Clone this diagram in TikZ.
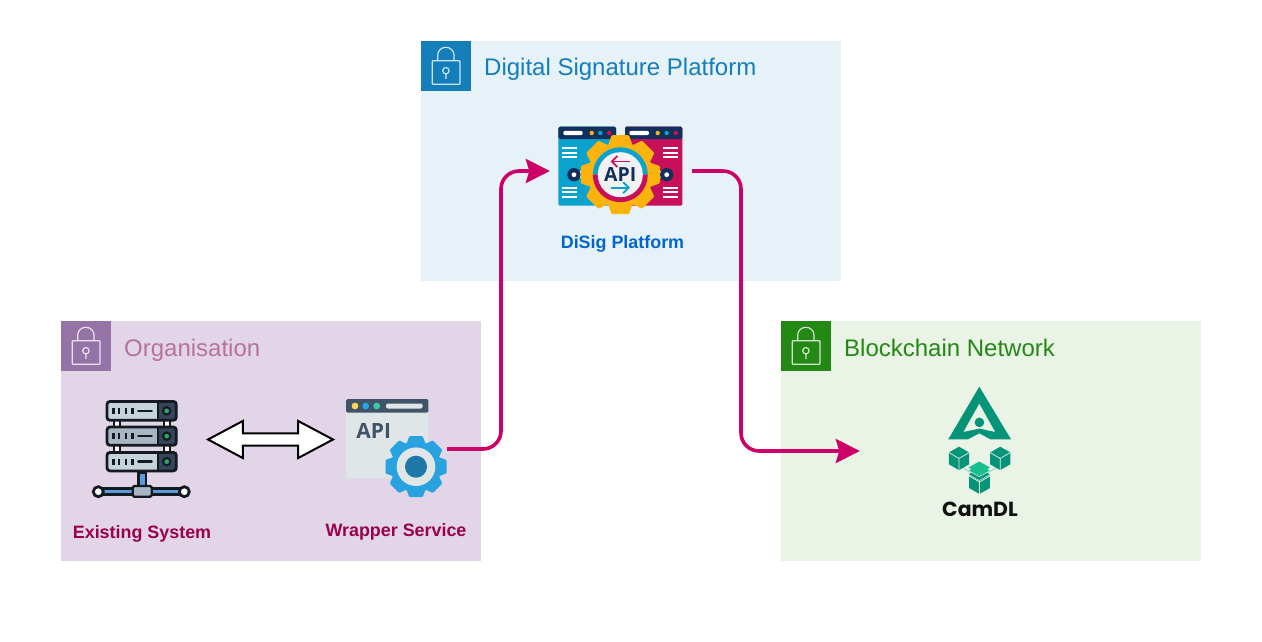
\documentclass[tikz,border=0pt]{standalone}
\usepackage{fontspec}
\setmainfont{Liberation Sans}
\newfontfamily\poppinsfont{Poppins}
\newfontfamily\apifont{Open Sans}
\usetikzlibrary{arrows.meta,shapes.arrows,calc}
\definecolor{bluefill}{HTML}{E6F2F8}\definecolor{blueic}{HTML}{147EBA}
\definecolor{purfill}{HTML}{E2D5E7}\definecolor{puric}{HTML}{9673A6}\definecolor{purtxt}{HTML}{B5739D}
\definecolor{grnfill}{HTML}{E9F3E6}\definecolor{grnic}{HTML}{248814}
\definecolor{linkcol}{HTML}{CC0066}\definecolor{lblred}{HTML}{99004D}\definecolor{lblblue}{HTML}{0066CC}
\definecolor{navy}{HTML}{12305C}\definecolor{tealb}{HTML}{0BA3CE}\definecolor{crim}{HTML}{C8105A}\definecolor{gold}{HTML}{FDB30E}
\definecolor{srvk}{HTML}{141A20}\definecolor{srvd}{HTML}{36465A}\definecolor{srvl}{HTML}{C5D3DB}\definecolor{srvm}{HTML}{A8B5C2}\definecolor{srvb}{HTML}{5A9BE0}\definecolor{srvg}{HTML}{2FA36B}
\definecolor{wingrey}{HTML}{E0E5E8}\definecolor{winhead}{HTML}{3F5468}\definecolor{skyg}{HTML}{29A3E0}\definecolor{deepg}{HTML}{1E78A8}
\definecolor{winyel}{HTML}{FFD54F}\definecolor{wingrn}{HTML}{3CC8A0}
\definecolor{camg}{HTML}{069478}\definecolor{camb}{HTML}{18BE8E}\definecolor{camk}{HTML}{111111}
\tikzset{
  x=1pt,y=-1pt,
  grp/.style={draw=none,inner sep=0pt,anchor=north west},
  grouptitle/.style={anchor=base west,inner sep=0pt,font=\fontsize{24}{28}\selectfont},
  iconlabel/.style={anchor=base,inner sep=0pt,font=\fontsize{17.9}{21}\selectfont\bfseries},
  iconbox/.style={draw=none,fill=none,inner sep=0pt},
  link/.style={draw=linkcol,line width=3.6pt,rounded corners=18pt,-{Stealth[length=24pt,width=24pt,inset=3.5pt]}},
  lockpic/.pic={
    \draw[white,line width=1.2pt,opacity=.8,rounded corners=.8pt] (11.3,19.7) rectangle (39,43.3);
    \draw[white,line width=1.2pt,opacity=.8] (16.7,19.7) -- (16.7,14) arc[start angle=180,end angle=0,x radius=8.15,y radius=-7.7] -- (33,19.7);
    \draw[white,line width=1.2pt,opacity=.8] (24.9,29.7) circle[radius=3.2] (24.9,32.9) -- (24.9,38);
  }
}
% gear: cx cy router rbody teeth colour
\newcommand{\gearshape}[6]{%
  \fill[#6] (#1,#2) circle[radius=#4];
  \pgfmathsetmacro{\gstep}{360/#5}
  \foreach \k in {1,...,#5}{
    \pgfmathsetmacro{\ga}{\k*\gstep}
    \fill[#6,shift={(#1,#2)},rotate=\ga,rounded corners=1pt] (-#3*.31,-#4*.9) -- (-#3*.22,-#3) -- (#3*.22,-#3) -- (#3*.31,-#4*.9) -- cycle;
  }
}
% cube: cx cy half-size
\newcommand{\cubeshape}[3]{%
  \fill[camg] (#1,#2-#3) -- (#1+#3*.87,#2-#3*.5) -- (#1+#3*.87,#2+#3*.5) -- (#1,#2+#3) -- (#1-#3*.87,#2+#3*.5) -- (#1-#3*.87,#2-#3*.5) -- cycle;
  \draw[grnfill,line width=.7pt] (#1-#3*.87,#2-#3*.5) -- (#1,#2) -- (#1+#3*.87,#2-#3*.5) (#1,#2) -- (#1,#2+#3);
}
\begin{document}
\begin{tikzpicture}
\useasboundingbox (0,0) rectangle (1262,642);
\fill[white] (0,0) rectangle (1262,642);
% groups
\node[grp,fill=bluefill,minimum width=420pt,minimum height=240pt] (gblue) at (421,41) {};
\node[grp,fill=purfill,minimum width=420pt,minimum height=240pt] (gpur) at (61,321) {};
\node[grp,fill=grnfill,minimum width=420pt,minimum height=240pt] (ggrn) at (781,321) {};
\node[grp,fill=blueic,minimum width=50pt,minimum height=50pt] (iblue) at (421,41) {};
\node[grp,fill=puric,minimum width=50pt,minimum height=50pt] (ipur) at (61,321) {};
\node[grp,fill=grnic,minimum width=50pt,minimum height=50pt] (igrn) at (781,321) {};
\pic at (421,41) {lockpic};
\pic at (61,321) {lockpic};
\pic at (781,321) {lockpic};
\node[grouptitle,text=blueic] (tblue) at (484,76) {Digital Signature Platform};
\node[grouptitle,text=purtxt] (tpur) at (124,356) {Organisation};
\node[grouptitle,text=grnic] (tgrn) at (844,356) {Blockchain Network};
% ---------- DiSig icon
\fill[tealb,rounded corners=1.5pt] (558.3,126.7) rectangle (616,205.7);
\fill[crim,rounded corners=1.5pt] (625,126.7) rectangle (682.3,205.7);
\fill[navy,rounded corners=1.5pt] (558.3,126.7) rectangle (616,139);
\fill[navy,rounded corners=1.5pt] (625,126.7) rectangle (682.3,139);
\fill[white,rounded corners=2pt] (563.3,130.8) rectangle (582.7,135.2);
\fill[white,rounded corners=2pt] (629.3,130.8) rectangle (649,135.2);
\fill[gold] (591.7,133) circle[radius=2.2];\fill[tealb] (600.3,133) circle[radius=2.2];\fill[crim] (609.3,133) circle[radius=2.2];
\fill[gold] (657.7,133) circle[radius=2.2];\fill[tealb] (666.7,133) circle[radius=2.2];\fill[crim] (675.7,133) circle[radius=2.2];
\foreach \yy in {148.3,152.7,157.3,187.7,192.3,197}{
  \fill[white] (562.3,\yy-1.1) rectangle (577.3,\yy+1.1);
  \fill[white] (663.3,\yy-1.1) rectangle (678.3,\yy+1.1);
}
\fill[white] (574,171) rectangle (590,178);
\fill[white] (650,171) rectangle (667,178);
\fill[navy] (574,174.7) circle[radius=6.7];\fill[white] (574,174.7) circle[radius=2.4];
\fill[navy] (666.7,174.7) circle[radius=6.7];\fill[white] (666.7,174.7) circle[radius=2.4];
\gearshape{620.3}{174.7}{39.5}{32.5}{8}{gold}
\fill[tealb] (592.8,174.7) arc[start angle=180,end angle=0,radius=27.5,y radius=-27.5] -- cycle;
\fill[crim] (592.8,174.7) arc[start angle=180,end angle=360,radius=27.5,y radius=-27.5] -- cycle;
\fill[white!95!black] (620.3,174.7) circle[radius=22.5];
\node[inner sep=0pt,text=navy] (apitxt) at (620.3,174.5) {\apifont\fontsize{19.5}{20}\selectfont\bfseries API};
\draw[crim,line width=1.9pt,-{Straight Barb[length=5.5pt,width=11pt]}] (630,161.5) -- (610.5,161.5);
\draw[tealb,line width=1.9pt,-{Straight Barb[length=5.5pt,width=11pt]}] (610.5,187.7) -- (630,187.7);
\node[iconbox,minimum width=142pt,minimum height=80pt] (disig) at (621,171) {};
\node[iconlabel,text=lblblue] (ldisig) at (622.5,248) {DiSig Platform};
% ---------- server icon
\foreach \xa in {112.8,162.8}{
  \fill[srvk] (\xa,419) rectangle (\xa+8,453);
  \fill[white] (\xa+1.7,419) rectangle (\xa+6.3,453);
}
\foreach \yt/\yb/\col in {401.4/420.3/srvl,427/445.3/srvm,452.4/470.9/srvl}{
  \fill[\col,rounded corners=3pt] (107,\yt) rectangle (176.3,\yb);
  \fill[srvd,rounded corners=3pt] (157.7,\yt) rectangle (176.3,\yb);
  \draw[srvk,line width=2.8pt,rounded corners=3pt] (107,\yt) rectangle (176.3,\yb);
  \draw[srvk,line width=2.2pt] (157.7,\yt) -- (157.7,\yb);
  \pgfmathsetmacro{\ymid}{(\yt+\yb)/2}
  \fill[srvk] (166.7,\ymid) circle[radius=4.8];
  \fill[srvg] (166.7,\ymid) circle[radius=2.4];
  \foreach \xx in {113.3,119,125.7,132.3}{\draw[srvk,line width=2.4pt] (\xx,\ymid-3) -- (\xx,\ymid+3);}
  \draw[srvk,line width=2.4pt,line cap=round] (138.3,\ymid) -- (151.7,\ymid);
}
\fill[srvk] (137.2,472) rectangle (147.4,488);
\fill[srvb] (139.9,473.8) rectangle (144.7,488);
\fill[srvk] (98,487.4) rectangle (184,496);
\fill[srvb] (100,490) rectangle (182,493.4);
\draw[srvk,fill=srvm,line width=2.4pt,rounded corners=1.5pt] (132.7,486) rectangle (151.7,496.7);
\draw[srvk,fill=white,line width=2.8pt] (98.3,491.7) circle[radius=5];
\draw[srvk,fill=white,line width=2.8pt] (184.3,491.7) circle[radius=5];
\node[iconbox,minimum width=90pt,minimum height=100pt] (existing) at (141,448) {};
\node[iconlabel,text=lblred] (lexist) at (142,538) {Existing System};
% ---------- wrapper icon
\fill[wingrey,rounded corners=1.5pt] (346,399) rectangle (428.3,478.3);
\fill[winhead,rounded corners=1.5pt] (346,399) rectangle (428.3,412.7);
\fill[winyel] (355,406) circle[radius=3.4];
\fill[skyg] (365.7,406) circle[radius=3.4];
\fill[wingrn] (376.7,406) circle[radius=3.4];
\fill[wingrey,rounded corners=2pt] (386,403.5) rectangle (422.7,408.5);
\node[inner sep=0pt,text=winhead] (apiw) at (373.7,430.5) {\apifont\fontsize{21}{21}\selectfont\bfseries API};
\gearshape{416}{466.7}{30.5}{25.5}{8}{skyg}
\fill[wingrey] (416,466.7) circle[radius=19.3];
\fill[deepg] (416,466.7) circle[radius=11];
\node[iconbox,minimum width=102pt,minimum height=100pt] (wrapper) at (396,449) {};
\node[iconlabel,text=lblred] (lwrap) at (396,536) {Wrapper Service};
% ---------- CamDL icon
\fill[camg,even odd rule] (979.3,386.7) -- (1011,439.3) -- (990.5,439.3) -- (979.3,433.3) -- (968,439.3) -- (948.3,439.3) -- cycle
  (979.3,403.5) -- (963.3,432) -- (979.3,428.6) -- (995.3,432) -- cycle;
\fill[camg] (979.4,422.4) circle[radius=4.8];
\draw[camb!60!grnfill,line width=.6pt] (962,467) -- (971,473) (997,467) -- (988,473);
\cubeshape{959}{458.4}{11.7}
\cubeshape{1000.2}{458.4}{11.7}
\cubeshape{979.5}{482}{12}
\fill[camg] (979.3,468.5) -- (990,474.5) -- (979.3,480.5) -- (968.6,474.5) -- cycle;
\draw[grnfill,line width=.5pt] (968.6,474.5) -- (979.3,480.5) -- (990,474.5);
\fill[camb] (979.3,464.7) -- (990,470.7) -- (979.3,476.7) -- (968.6,470.7) -- cycle;
\draw[grnfill,line width=.5pt] (968.6,470.7) -- (979.3,476.7) -- (990,470.7);
\fill[camb] (979.3,461.5) -- (990,467.5) -- (979.3,473.5) -- (968.6,467.5) -- cycle;
\node[iconbox,minimum width=240pt,minimum height=100pt] (camdlbox) at (980,451) {};
\node[anchor=base,inner sep=0pt,text=camk] (lcam) at (980,516.5) {\poppinsfont\fontsize{20.4}{24}\selectfont\bfseries CamDL};
% ---------- connectors
\node[double arrow,draw=black,fill=white,line width=2pt,inner xsep=0pt,inner ysep=4.5pt,minimum width=37pt,minimum height=125pt,double arrow head extend=11pt,double arrow tip angle=56,double arrow head indent=0pt] (duplex) at (270.5,439.5) {};
\coordinate (upbend) at (501,449);
\draw[link] (wrapper.east) -- (upbend) -- (upbend |- disig.west) -- (disig.west);
\coordinate (downbend) at (741,171);
\draw[link] (disig.east) -- (downbend) -- (downbend |- camdlbox.west) -- (camdlbox.west);
\end{tikzpicture}
\end{document}
